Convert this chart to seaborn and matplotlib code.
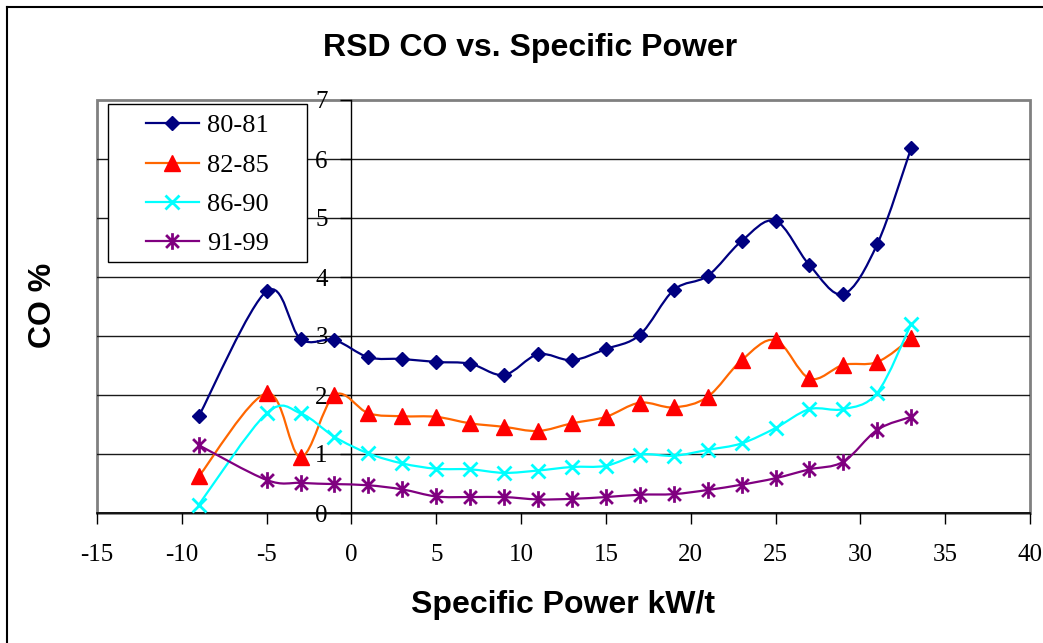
import matplotlib
matplotlib.use('Agg')
import matplotlib.pyplot as plt
from matplotlib.path import Path
from matplotlib.patches import PathPatch, Rectangle
from matplotlib.lines import Line2D
import seaborn as sns
import numpy as np

# data
spec_power = [-9, -5, -3, -1, 1, 3, 5, 7, 9, 11, 13, 15, 17, 19, 21, 23, 25, 27, 29, 31, 33]
co_80_81 = [1.64, 3.76, 2.95, 2.93, 2.64, 2.61, 2.56, 2.53, 2.34, 2.69, 2.59, 2.78, 3.02, 3.78, 4.02, 4.61, 4.95, 4.20, 3.71, 4.56, 6.19]
co_82_85 = [0.62, 2.03, 0.95, 2.00, 1.69, 1.64, 1.63, 1.52, 1.46, 1.39, 1.52, 1.63, 1.87, 1.79, 1.97, 2.59, 2.93, 2.28, 2.51, 2.56, 2.96]
co_86_90 = [0.14, 1.69, 1.69, 1.29, 1.01, 0.84, 0.75, 0.74, 0.68, 0.72, 0.78, 0.80, 0.99, 0.97, 1.07, 1.18, 1.44, 1.76, 1.76, 2.04, 3.21]
co_91_99 = [1.15, 0.56, 0.51, 0.49, 0.47, 0.40, 0.28, 0.27, 0.27, 0.23, 0.24, 0.27, 0.31, 0.32, 0.39, 0.48, 0.59, 0.74, 0.87, 1.41, 1.63]
labels = ['80-81', '82-85', '86-90', '91-99']
x_ticks = [-15, -10, -5, 0, 5, 10, 15, 20, 25, 30, 35, 40]
y_ticks = [0, 1, 2, 3, 4, 5, 6, 7]

# excel-like star marker: an x with a vertical bar
star = Path([(-1, -1), (1, 1), (-1, 1), (1, -1), (0, -1.3), (0, 1.3)],
            [Path.MOVETO, Path.LINETO, Path.MOVETO, Path.LINETO, Path.MOVETO, Path.LINETO])

styles = [
    dict(line='#000080', marker='D', ms=7.5, mfc='#000080', mec='#000080', mew=1),
    dict(line='#FF6600', marker='^', ms=11, mfc='#FF0000', mec='#FF0000', mew=1),
    dict(line='#00FFFF', marker='x', ms=10, mfc='none', mec='#00FFFF', mew=2),
    dict(line='#800080', marker=star, ms=12, mfc='none', mec='#800080', mew=2),
]


def smooth_path(xs, ys):
    # bezier smoothing through the points, roughly what excel does
    pts = np.column_stack([xs, ys]).astype(float)
    n = len(pts)
    verts = [pts[0]]
    codes = [Path.MOVETO]
    for i in range(n - 1):
        p0 = pts[max(i - 1, 0)]
        p1 = pts[i]
        p2 = pts[i + 1]
        p3 = pts[min(i + 2, n - 1)]
        verts += [p1 + (p2 - p0) / 6, p2 - (p3 - p1) / 6, p2]
        codes += [Path.CURVE4] * 3
    return Path(verts, codes)


fig = plt.figure(figsize=(10.43, 6.43), dpi=100)
ax = fig.add_axes([97 / 1043, 1 - 513 / 643, 933 / 1043, 413 / 643])

serif = 'Liberation Serif'
sans = 'Liberation Sans'

for grid_y in y_ticks[1:-1]:
    ax.axhline(grid_y, color='#1a1a1a', lw=1, zorder=1)

for vals, lab, st in zip([co_80_81, co_82_85, co_86_90, co_91_99], labels, styles):
    ax.add_patch(PathPatch(smooth_path(spec_power, vals), fill=False,
                           edgecolor=st['line'], lw=1.6, zorder=3))
    sns.lineplot(x=spec_power, y=vals, ax=ax, linestyle='none', marker=st['marker'],
                 markersize=st['ms'], markerfacecolor=st['mfc'], markeredgecolor=st['mec'],
                 markeredgewidth=st['mew'], color=st['line'], zorder=4)

# move the y axis to x=0 first, it resets the ticks
for side in ['top', 'right']:
    ax.spines[side].set_visible(False)
ax.spines['left'].set_position(('data', 0))
ax.spines['left'].set_color('black')
ax.spines['left'].set_linewidth(1)
ax.spines['left'].set_zorder(2)
ax.spines['bottom'].set_color('black')
ax.spines['bottom'].set_linewidth(1.2)

ax.set_xlim(-15, 40)
ax.set_ylim(0, 7)
ax.set_xticks(x_ticks)
ax.set_yticks(y_ticks)
ax.set_xticklabels([str(t) for t in x_ticks], fontfamily=serif, fontsize=18)
ax.set_yticklabels([str(t) for t in y_ticks], fontfamily=serif, fontsize=18)
ax.tick_params(axis='x', direction='out', length=8, width=1, pad=14)
ax.tick_params(axis='y', direction='out', length=8, width=1, pad=9)

# grey plot-area frame
ax.add_patch(Rectangle((0, 0), 1, 1, transform=ax.transAxes, fill=False,
                       edgecolor='#808080', lw=2, zorder=0.5, clip_on=False))

# legend box
ax.add_patch(Rectangle((11 / 933, 251 / 413), 199 / 933, 158 / 413, transform=ax.transAxes,
                       facecolor='white', edgecolor='black', lw=1, zorder=5))
handles = [Line2D([], [], color=st['line'], lw=1.6, marker=st['marker'], markersize=st['ms'],
                  markerfacecolor=st['mfc'], markeredgecolor=st['mec'], markeredgewidth=st['mew'])
           for st in styles]
leg = ax.legend(handles, labels, loc='upper left', bbox_to_anchor=(49 / 933, 399 / 413),
                frameon=False, borderpad=0, borderaxespad=0, handlelength=2.0,
                handletextpad=0.3, labelspacing=0.6, prop={'family': serif, 'size': 19})
leg.set_zorder(6)

fig.text(530 / 1043, 1 - 48 / 643, 'RSD CO vs. Specific Power', ha='center', va='center',
         fontfamily=sans, fontweight='bold', fontsize=23)
fig.text(43 / 1043, 1 - 305 / 643, 'CO %', ha='center', va='center', rotation=90,
         fontfamily=sans, fontweight='bold', fontsize=23)
fig.text(563 / 1043, 1 - 605 / 643, 'Specific Power kW/t', ha='center', va='center',
         fontfamily=sans, fontweight='bold', fontsize=23)

# outer chart border (runs off the right and bottom edges)
fig.add_artist(Line2D([7 / 1043, 7 / 1043], [0, 1 - 7 / 643], transform=fig.transFigure,
                      color='black', lw=1.5))
fig.add_artist(Line2D([7 / 1043, 1], [1 - 7 / 643, 1 - 7 / 643], transform=fig.transFigure,
                      color='black', lw=1.5))

plt.savefig('out.png', dpi=100)
